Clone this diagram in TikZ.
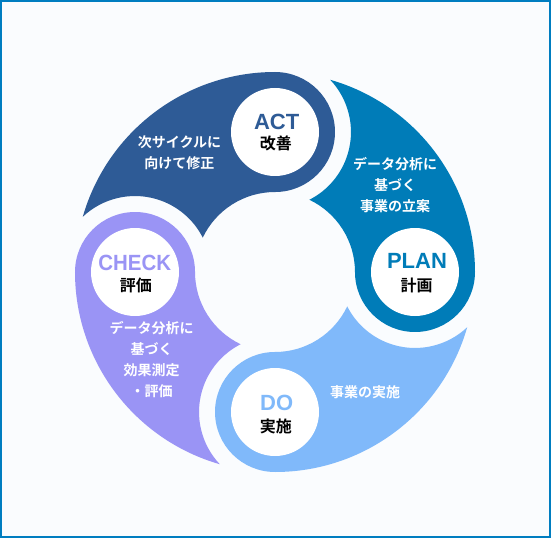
\documentclass[tikz,border=0pt]{standalone}
\usepackage{fontspec}
\setmainfont{Liberation Sans}
\newfontfamily\jpfont{Noto Sans CJK JP}[BoldFont={Noto Sans CJK JP Bold}]
\usepackage{xcolor}
\usepackage{tikz}
\usetikzlibrary{positioning}
\definecolor{actblue}{RGB}{46,91,150}
\definecolor{planblue}{RGB}{0,124,184}
\definecolor{doblue}{RGB}{128,185,250}
\definecolor{checkviolet}{RGB}{154,148,245}
\definecolor{paperwhite}{RGB}{250,252,254}
\definecolor{frameblue}{RGB}{0,125,192}

\begin{document}
\begin{tikzpicture}[x=1pt,y=1pt,
    labelen/.style={inner sep=0pt,font=\fontsize{22}{22}\selectfont\bfseries},
    labeljp/.style={inner sep=0pt,text=black,font=\jpfont\fontsize{16}{16}\selectfont\bfseries},
    desc/.style={inner sep=0pt,text=white,align=center,font=\jpfont\fontsize{14}{21}\selectfont\bfseries}]
        \useasboundingbox (-275,-266) rectangle (276,272);
        \fill[paperwhite] (-275,-266) rectangle (276,272);
        \draw[frameblue,line width=2pt] (-274,-265) rectangle (275,271);
        % ring pieces: head at \a, tail cut by the gap round the next head
        \foreach \a/\col in {90/actblue,0/planblue,270/doblue,180/checkviolet}{
          \fill[\col] (\a:200)
            arc[start angle=\a, end angle=\a+73.975, radius=200]
            arc[start angle=\a+43.4, end angle=\a-63.1, radius=76]
            arc[start angle=\a+64.54, end angle=\a, radius=80]
            arc[start angle=\a-180, end angle=\a, radius=60] -- cycle;
          \fill[white] (\a:140) circle[radius=44];
        }
        \node[labelen,text=actblue] (act) at (1.7,150) {ACT};
        \node[labeljp] (actjp) at (0.8,128.2) {改善};
        \node[labelen,text=planblue] (plan) at (142,11.5) {PLAN};
        \node[labeljp] (planjp) at (141.7,-13) {計画};
        \node[labelen,text=doblue] (do) at (1.7,-131.3) {DO};
        \node[labeljp] (dojp) at (0.8,-154.7) {実施};
        \node[labelen,text=checkviolet,xscale=0.93] (check) at (-140.3,9.5) {CHECK};
        \node[labeljp] (checkjp) at (-139.2,-13.5) {評価};
        \node[desc] (actdesc) at (-95.5,119) {次サイクルに\\向けて修正};
        \node[desc] (plandesc) at (120,86.5) {データ分析に\\基づく\\事業の立案};
        \node[desc] (dodesc) at (90,-119.7) {事業の実施};
        \node[desc] (checkdesc) at (-123.3,-87.2) {データ分析に\\基づく\\効果測定\\・評価};
      \end{tikzpicture}
\end{document}
